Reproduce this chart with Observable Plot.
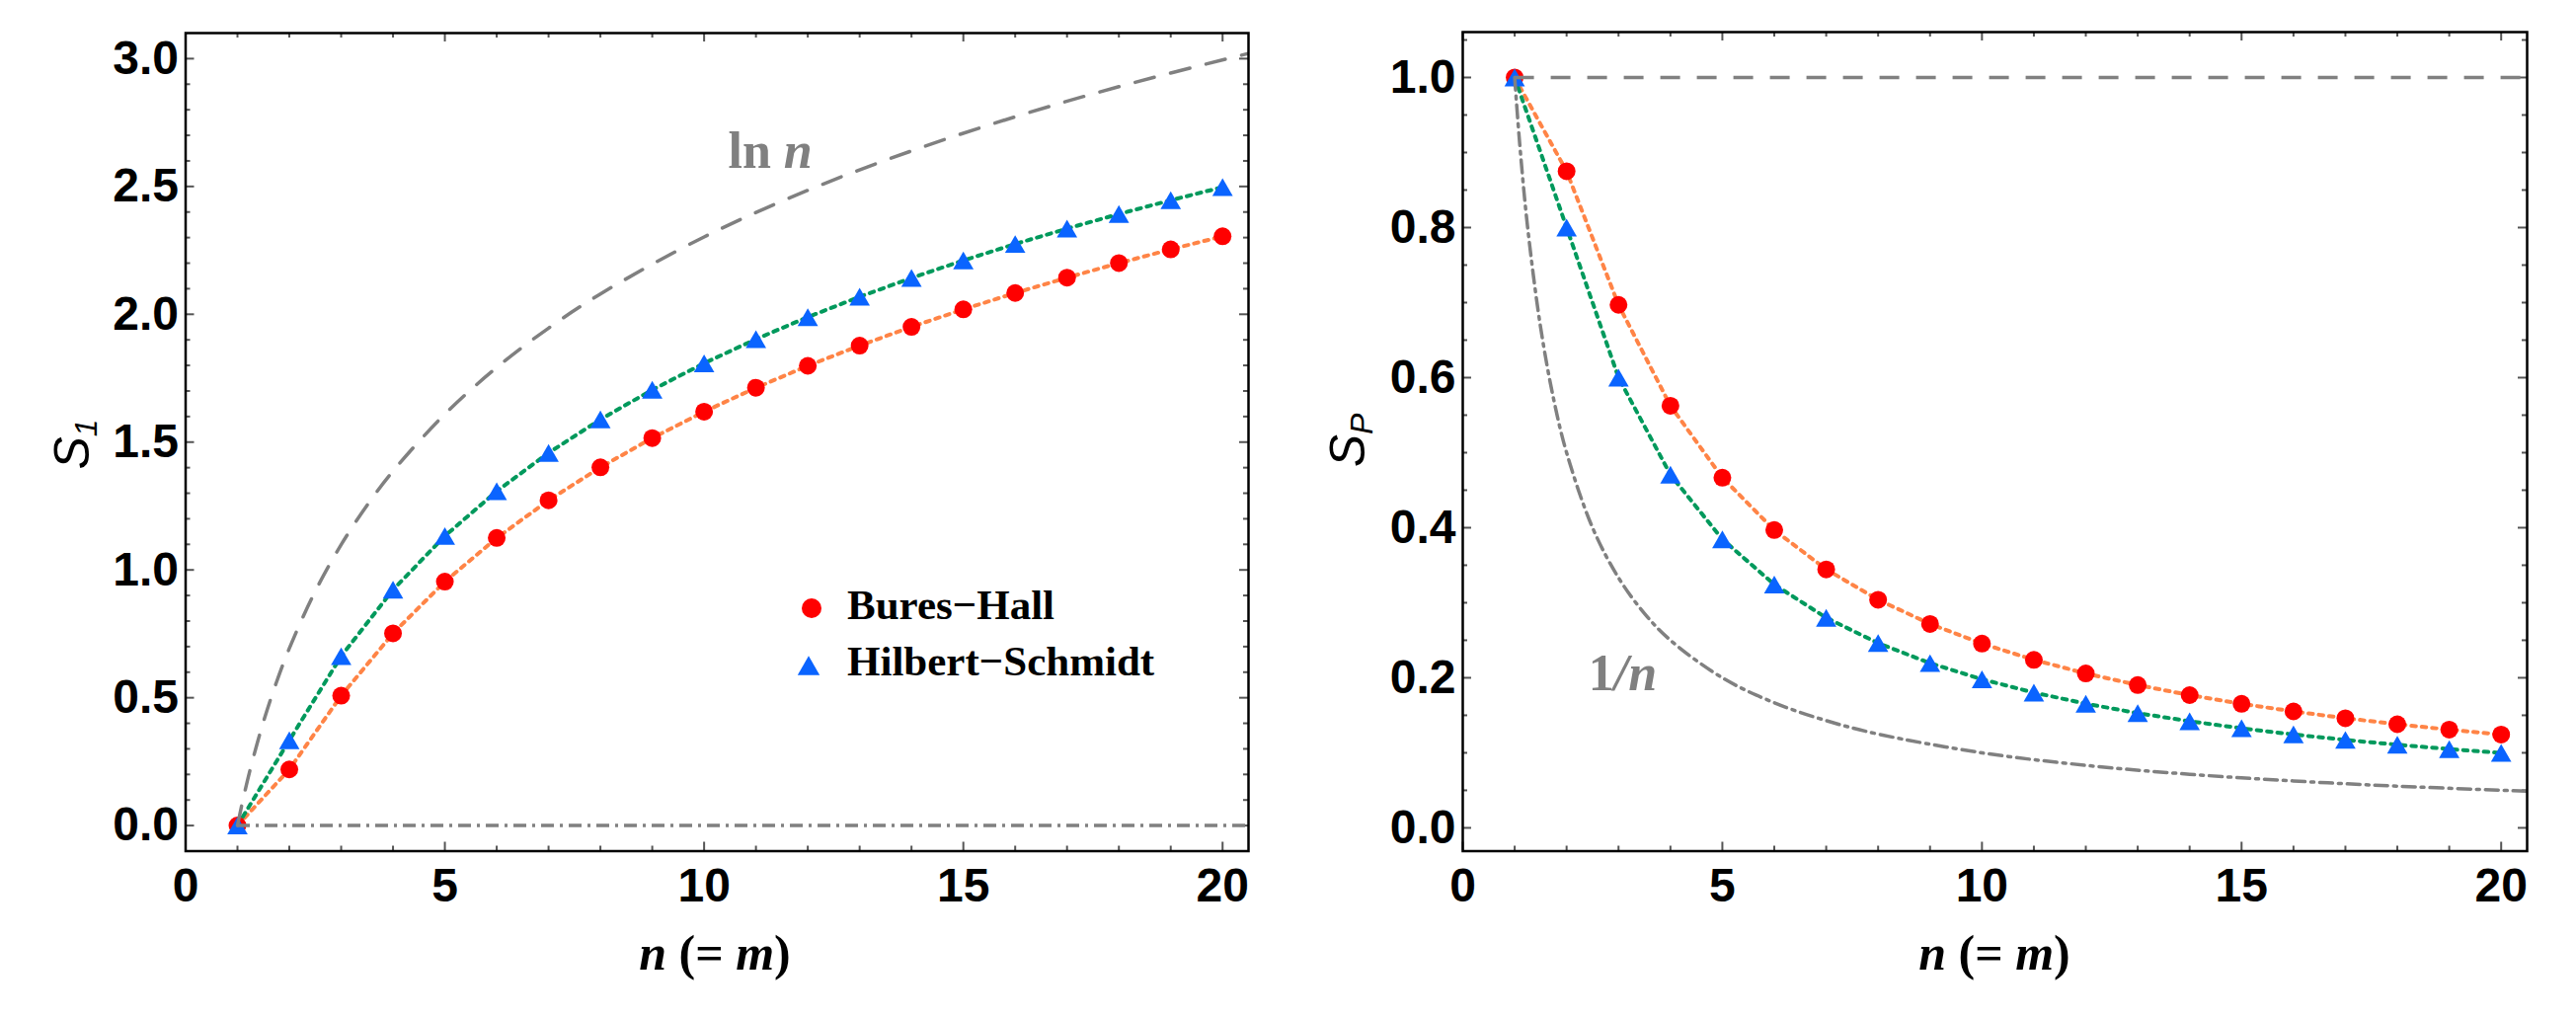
<!DOCTYPE html>
<html>
<head>
<meta charset="utf-8">
<script src="https://cdn.jsdelivr.net/npm/d3@7"></script>
<script src="https://cdn.jsdelivr.net/npm/@observablehq/plot@0.6"></script>
<style>
  html, body { margin: 0; padding: 0; background: #fff; overflow: hidden; }
  #page { position: relative; width: 2609px; height: 1030px; background: #fff; }
  .panel { position: absolute; top: 0; }
  #overlay { position: absolute; left: 0; top: 0; pointer-events: none; }
</style>
</head>
<body>
<div id="page">
  <div id="left" class="panel" style="left:0px"></div>
  <div id="right" class="panel" style="left:1300px"></div>
</div>
<script>
// Matrix size n (= m)
const n = [1, 2, 3, 4, 5, 6, 7, 8, 9, 10, 11, 12, 13, 14, 15, 16, 17, 18, 19, 20];

// Average entanglement entropy S_1
const buresHallEntropy = [0, 0.2196, 0.5079, 0.7518, 0.9541, 1.1250, 1.2722, 1.4012, 1.5159, 1.6190,
  1.7126, 1.7984, 1.8775, 1.9508, 2.0192, 2.0832, 2.1434, 2.2002, 2.2539, 2.3050];
const hilbertSchmidtEntropy = [0, 0.3333, 0.6623, 0.9224, 1.1326, 1.3079, 1.4578, 1.5885, 1.7044, 1.8084,
  1.9027, 1.9890, 2.0684, 2.1420, 2.2106, 2.2749, 2.3352, 2.3922, 2.4461, 2.4972];

// Average purity S_P
const buresHallPurity = [1, 0.875, 0.6970, 0.5625, 0.4667, 0.3969, 0.3445, 0.3040, 0.2718, 0.2456,
  0.2239, 0.2058, 0.1903, 0.1769, 0.1653, 0.1552, 0.1461, 0.1381, 0.1309, 0.1244];
const hilbertSchmidtPurity = [1, 0.8, 0.6, 0.4706, 0.3846, 0.3243, 0.28, 0.2462, 0.2195, 0.1980,
  0.1803, 0.1655, 0.1529, 0.1421, 0.1327, 0.1245, 0.1172, 0.1108, 0.1050, 0.0998];

// Reference curves: ln n (maximal entropy) and 1/n (minimal purity), sampled
const lnCurve = [[1, 0], [1.1, 0.0953], [1.25, 0.2231], [1.5, 0.4055], [1.75, 0.5596], [2, 0.6931],
  [2.5, 0.9163], [3, 1.0986], [3.5, 1.2528], [4, 1.3863], [5, 1.6094], [6, 1.7918], [7, 1.9459],
  [8, 2.0794], [10, 2.3026], [12, 2.4849], [14, 2.6391], [16, 2.7726], [18, 2.8904], [20.5, 3.0204]];
const invCurve = [[1, 1], [1.1, 0.9091], [1.25, 0.8], [1.5, 0.6667], [1.75, 0.5714], [2, 0.5],
  [2.5, 0.4], [3, 0.3333], [3.5, 0.2857], [4, 0.25], [5, 0.2], [6, 0.1667], [7, 0.1429], [8, 0.125],
  [10, 0.1], [12, 0.0833], [14, 0.0714], [16, 0.0625], [18, 0.0556], [20.5, 0.0488]];

// Constant bounds: zero entropy, unit purity
const entropyFloor = 0;
const purityCeiling = 1;
const nRange = [1, 20.5];

// Tick values and labels
const xMajor = [0, 5, 10, 15, 20];
const xMinor = [1, 2, 3, 4, 6, 7, 8, 9, 11, 12, 13, 14, 16, 17, 18, 19];
const entropyMajor = [0, 0.5, 1.0, 1.5, 2.0, 2.5, 3.0];
const entropyMinor = d3.range(0, 31).filter(i => i % 5 !== 0).map(i => i / 10);
const purityMajor = [0, 0.2, 0.4, 0.6, 0.8, 1.0];
const purityMinor = d3.range(0, 22).filter(i => i % 4 !== 0).map(i => i * 0.05);

// Text labels
const seriesNames = ["Bures\u2212Hall", "Hilbert\u2212Schmidt"];
const lnLabel = [{n: 11.29, v: 2.5715}];
const invLabel = [{n: 2.914, v: 0.184}];

const RED = "#ff0000", BLUE = "#0a64ff", ORANGE = "#ff8446", GREEN = "#00995c";
const GRAY = "#808080", TICK = "#555555";
const SERIF = "'Liberation Serif', 'Times New Roman', serif";
const SANS = "'Liberation Sans', Arial, sans-serif";
const DOTTED = "4.5,6";

// Upward triangle centred on its bounding box
const triangle = {
  draw(context, size) {
    const side = Math.sqrt((4 * size) / Math.sqrt(3));
    const h = side * Math.sqrt(3) / 2;
    context.moveTo(0, -h / 2);
    context.lineTo(side / 2, h / 2);
    context.lineTo(-side / 2, h / 2);
    context.closePath();
  }
};

const entropyRows = n.map((k, i) => ({n: k, bh: buresHallEntropy[i], hs: hilbertSchmidtEntropy[i]}));
const purityRows = n.map((k, i) => ({n: k, bh: buresHallPurity[i], hs: hilbertSchmidtPurity[i]}));

function seriesMarks(rows) {
  return [
    Plot.line(rows, {x: "n", y: "bh", stroke: ORANGE, strokeWidth: 4, strokeDasharray: DOTTED}),
    Plot.line(rows, {x: "n", y: "hs", stroke: GREEN, strokeWidth: 4, strokeDasharray: DOTTED}),
    Plot.dot(rows, {x: "n", y: "bh", r: 9, fill: RED, symbol: "circle"}),
    Plot.dot(rows, {x: "n", y: "hs", r: 7.7, fill: BLUE, symbol: triangle})
  ];
}

function panel({width, margin, yDomain, yMajor, yMinor, marks}) {
  const FH = 1030 - margin.top - margin.bottom;
  const FW = width - margin.left - margin.right;
  const tk = {stroke: TICK, strokeWidth: 2};
  return Plot.plot({
    width, height: 1030,
    marginLeft: margin.left, marginRight: margin.right,
    marginTop: margin.top, marginBottom: margin.bottom,
    x: {domain: [0, 20.5]},
    y: {domain: yDomain},
    style: {background: "white", color: "black", fontFamily: SANS, fontSize: "48px", fontWeight: "bold", overflow: "visible"},
    marks: [
      // inward frame ticks on all four sides
      Plot.tickX(xMinor, {...tk, insetTop: FH - 5}),
      Plot.tickX(xMinor, {...tk, insetBottom: FH - 5}),
      Plot.tickX(xMajor, {...tk, insetTop: FH - 9}),
      Plot.tickX(xMajor, {...tk, insetBottom: FH - 9}),
      Plot.tickY(yMinor, {...tk, insetRight: FW - 5}),
      Plot.tickY(yMinor, {...tk, insetLeft: FW - 5}),
      Plot.tickY(yMajor, {...tk, insetRight: FW - 9}),
      Plot.tickY(yMajor, {...tk, insetLeft: FW - 9}),
      ...marks,
      Plot.frame({stroke: "black", strokeWidth: 2.5}),
      Plot.axisX(xMajor, {tickSize: 0, tickPadding: 17, label: null, fontSize: 48, fontWeight: "bold", fontFamily: SANS, tickFormat: d3.format("d")}),
      Plot.axisY(yMajor, {tickSize: 0, tickPadding: 7, label: null, fontSize: 48, fontWeight: "bold", fontFamily: SANS, tickFormat: d3.format(".1f")})
    ]
  });
}

const textStyle = {fontFamily: SERIF, fontWeight: "bold", fontSize: 52, fill: GRAY, lineAnchor: "bottom"};

const leftPlot = panel({
  width: 1300,
  margin: {left: 187.5, right: 36, top: 33, bottom: 168.5},
  yDomain: [-0.1, 3.1],
  yMajor: entropyMajor,
  yMinor: entropyMinor,
  marks: [
    ...seriesMarks(entropyRows),
    Plot.line(lnCurve, {x: d => d[0], y: d => d[1], curve: "catmull-rom", stroke: GRAY, strokeWidth: 3.5, strokeDasharray: "20,17", clip: true}),
    Plot.ruleY([entropyFloor], {x1: nRange[0], x2: nRange[1], stroke: GRAY, strokeWidth: 3.5, strokeDasharray: "13,6,3,6"}),
    Plot.text(lnLabel, {x: "n", y: "v", text: () => "ln", textAnchor: "end", ...textStyle}),
    Plot.text(lnLabel, {x: "n", y: "v", text: () => "n", textAnchor: "start", fontStyle: "italic", dx: 13, ...textStyle})
  ]
});

const rightPlot = panel({
  width: 1309,
  margin: {left: 181, right: 50, top: 32, bottom: 168.5},
  yDomain: [-0.031, 1.0605],
  yMajor: purityMajor,
  yMinor: purityMinor,
  marks: [
    ...seriesMarks(purityRows),
    Plot.line(invCurve, {x: d => d[0], y: d => d[1], curve: "catmull-rom", stroke: GRAY, strokeWidth: 3.5, strokeDasharray: "13,6,3,6", clip: true}),
    Plot.ruleY([purityCeiling], {x1: nRange[0], x2: nRange[1], stroke: GRAY, strokeWidth: 3.5, strokeDasharray: "20,17"}),
    Plot.text(invLabel, {x: "n", y: "v", text: () => "1", textAnchor: "end", ...textStyle}),
    Plot.text(invLabel, {x: "n", y: "v", text: () => "/n", textAnchor: "start", fontStyle: "italic", ...textStyle})
  ]
});

document.getElementById("left").appendChild(leftPlot);
document.getElementById("right").appendChild(rightPlot);

// Axis titles and legend
const overlay = d3.select("#page").append("svg")
  .attr("id", "overlay").attr("width", 2609).attr("height", 1030);

for (const cx of [724, 2020]) {
  const t = overlay.append("text")
    .attr("x", cx).attr("y", 982).attr("text-anchor", "middle")
    .attr("font-family", SERIF).attr("font-weight", "bold").attr("font-size", 50)
    .style("white-space", "pre");
  t.append("tspan").attr("font-style", "italic").text("n");
  t.append("tspan").text(" (= ");
  t.append("tspan").attr("font-style", "italic").text("m");
  t.append("tspan").text(")");
}

function yTitle(x, y, sub) {
  const t = overlay.append("text")
    .attr("transform", `translate(${x},${y}) rotate(-90)`)
    .attr("text-anchor", "middle")
    .attr("font-family", SANS).attr("font-style", "italic").attr("fill", "black");
  t.append("tspan").attr("font-size", 50).text("S");
  t.append("tspan").attr("font-size", 32).attr("dy", 8).text(sub);
}
yTitle(90, 450, "1");
yTitle(1382, 446, "P");

const legend = overlay.append("g").attr("font-family", SERIF).attr("font-weight", "bold").attr("font-size", 43);
legend.append("path").attr("d", d3.symbol(d3.symbolCircle, Math.PI * 100)()).attr("transform", "translate(822,616)").attr("fill", RED);
legend.append("path").attr("d", d3.symbol(triangle, Math.PI * 8.3 * 8.3)()).attr("transform", "translate(819,674)").attr("fill", BLUE);
legend.append("text").attr("x", 858).attr("y", 627).text(seriesNames[0]);
legend.append("text").attr("x", 858).attr("y", 684).text(seriesNames[1]);
</script>
</body>
</html>
